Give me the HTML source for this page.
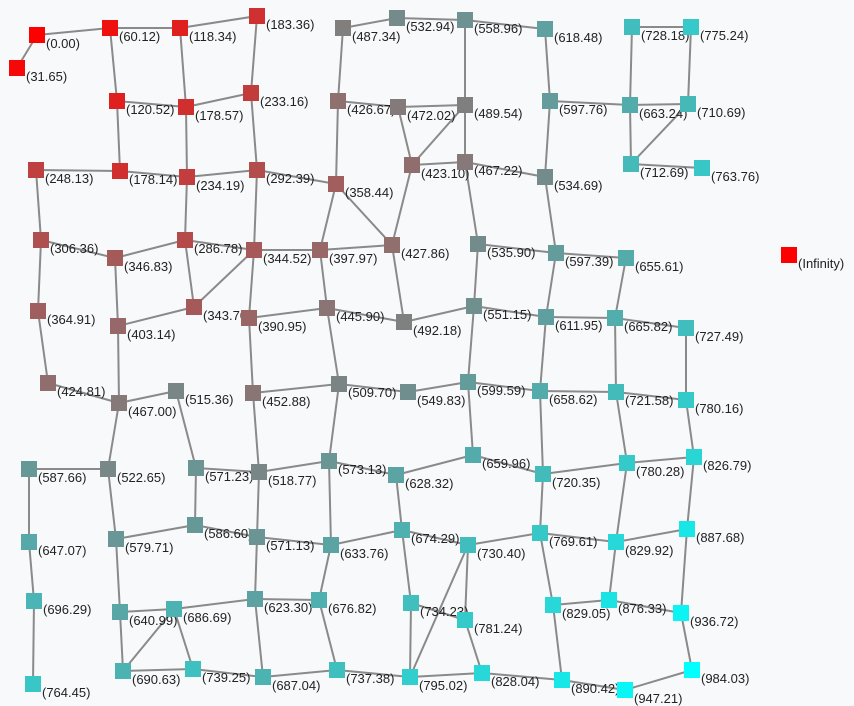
<!DOCTYPE html>
<html><head><meta charset="utf-8"><style>
html,body{margin:0;padding:0;background:#f8f9fb;}
svg{display:block;font-family:"Liberation Sans",sans-serif;}
</style></head><body>
<svg id="chart" width="854" height="706"></svg>
<script>
const nodeLabels=["0.00","31.65","60.12","118.34","183.36","120.52","178.57","233.16","248.13","178.14","234.19","292.39","306.36","346.83","286.78","344.52","364.91","403.14","343.70","390.95","424.81","467.00","515.36","452.88","587.66","522.65","571.23","518.77","647.07","579.71","586.60","571.13","696.29","640.99","686.69","623.30","764.45","690.63","739.25","687.04","487.34","532.94","558.96","618.48","426.67","472.02","489.54","597.76","358.44","423.10","467.22","534.69","397.97","427.86","535.90","597.39","445.90","492.18","551.15","611.95","509.70","549.83","599.59","658.62","573.13","628.32","659.96","720.35","633.76","674.29","730.40","769.61","676.82","734.23","781.24","829.05","737.38","795.02","828.04","890.42","728.18","775.24","663.24","710.69","712.69","763.76","655.61","665.82","727.49","721.58","780.16","780.28","826.79","829.92","887.68","876.33","936.72","947.21","984.03","Infinity"];
const nodeX=[37,17,110,180,257,117,186,251,36,120,187,257,41,115,185,254,38,118,194,249,48,119,176,253,29,108,196,259,29,116,195,257,34,120,174,255,33,123,193,263,343,397,465,545,338,398,465,550,336,412,465,545,320,392,478,556,327,404,474,546,339,408,468,540,329,396,473,543,331,402,468,540,319,411,465,553,337,410,482,562,632,691,630,688,631,702,626,615,686,616,686,627,694,616,687,609,681,625,692,789];
const nodeY=[35,68,28,28,16,101,107,93,170,171,177,170,240,258,240,250,311,326,307,318,383,403,391,393,469,469,468,472,542,539,525,537,601,612,609,599,684,671,669,677,28,18,20,29,101,107,105,101,184,165,162,177,250,245,244,253,308,322,306,317,384,392,382,391,461,475,455,474,545,530,545,533,600,603,620,605,670,677,673,680,27,27,105,104,164,168,258,318,328,392,400,463,457,542,529,600,613,690,670,255];
const edgeList=[["0.00","31.65"],["0.00","60.12"],["60.12","118.34"],["118.34","183.36"],["60.12","120.52"],["118.34","178.57"],["183.36","233.16"],["120.52","178.57"],["178.57","233.16"],["178.57","234.19"],["233.16","292.39"],["120.52","178.14"],["178.14","234.19"],["234.19","292.39"],["248.13","178.14"],["248.13","306.36"],["306.36","346.83"],["346.83","286.78"],["286.78","234.19"],["286.78","344.52"],["292.39","344.52"],["344.52","397.97"],["346.83","403.14"],["403.14","343.70"],["343.70","344.52"],["286.78","343.70"],["344.52","390.95"],["306.36","364.91"],["364.91","424.81"],["424.81","467.00"],["403.14","467.00"],["467.00","515.36"],["467.00","522.65"],["515.36","571.23"],["390.95","452.88"],["452.88","518.77"],["522.65","587.66"],["587.66","647.07"],["647.07","696.29"],["696.29","764.45"],["522.65","579.71"],["579.71","586.60"],["571.23","586.60"],["571.23","518.77"],["518.77","571.13"],["586.60","571.13"],["518.77","573.13"],["579.71","640.99"],["640.99","686.69"],["571.13","623.30"],["623.30","686.69"],["640.99","690.63"],["686.69","690.63"],["686.69","739.25"],["690.63","739.25"],["623.30","687.04"],["739.25","687.04"],["687.04","737.38"],["623.30","676.82"],["571.13","633.76"],["676.82","737.38"],["737.38","795.02"],["487.34","532.94"],["532.94","558.96"],["558.96","618.48"],["487.34","426.67"],["426.67","472.02"],["472.02","489.54"],["489.54","558.96"],["426.67","358.44"],["472.02","423.10"],["489.54","423.10"],["423.10","467.22"],["489.54","467.22"],["467.22","534.69"],["618.48","597.76"],["597.76","534.69"],["358.44","292.39"],["358.44","397.97"],["358.44","427.86"],["423.10","427.86"],["467.22","535.90"],["534.69","597.39"],["535.90","597.39"],["397.97","427.86"],["397.97","445.90"],["427.86","492.18"],["445.90","390.95"],["445.90","492.18"],["492.18","551.15"],["551.15","535.90"],["551.15","611.95"],["597.39","611.95"],["445.90","509.70"],["509.70","452.88"],["509.70","549.83"],["549.83","599.59"],["551.15","599.59"],["599.59","658.62"],["611.95","658.62"],["509.70","573.13"],["573.13","628.32"],["628.32","659.96"],["599.59","659.96"],["659.96","720.35"],["658.62","720.35"],["628.32","674.29"],["573.13","633.76"],["633.76","674.29"],["674.29","730.40"],["730.40","769.61"],["720.35","769.61"],["674.29","734.23"],["730.40","781.24"],["730.40","795.02"],["734.23","795.02"],["734.23","781.24"],["781.24","828.04"],["795.02","828.04"],["828.04","890.42"],["769.61","829.05"],["829.05","890.42"],["633.76","676.82"],["728.18","775.24"],["728.18","663.24"],["775.24","710.69"],["597.76","663.24"],["663.24","710.69"],["663.24","712.69"],["710.69","712.69"],["712.69","763.76"],["597.39","655.61"],["655.61","665.82"],["611.95","665.82"],["665.82","727.49"],["727.49","780.16"],["658.62","721.58"],["665.82","721.58"],["721.58","780.16"],["721.58","780.28"],["780.16","826.79"],["780.28","826.79"],["720.35","780.28"],["780.28","829.92"],["769.61","829.92"],["829.92","887.68"],["826.79","887.68"],["829.92","876.33"],["829.05","876.33"],["876.33","936.72"],["887.68","936.72"],["936.72","984.03"],["984.03","947.21"],["890.42","947.21"]];
const NS="http://www.w3.org/2000/svg";
const svg=document.getElementById('chart');
const maxV=984.03;
function idx(l){return nodeLabels.indexOf(l);}
function color(l){
  const v=parseFloat(l);
  if(!isFinite(v)) return 'rgb(255,0,0)';
  const t=v/maxV;
  return `rgb(${Math.round(255*(1-t))},${Math.round(255*t)},${Math.round(255*t)})`;
}
const gE=document.createElementNS(NS,'g');


svg.appendChild(gE);
edgeList.forEach(e=>{
  const a=idx(e[0]),b=idx(e[1]);
  if(a<0||b<0)return;
  const ln=document.createElementNS(NS,'line');
  ln.setAttribute('x1',nodeX[a]);ln.setAttribute('y1',nodeY[a]);
  ln.setAttribute('x2',nodeX[b]);ln.setAttribute('y2',nodeY[b]);
  ln.setAttribute('stroke','#8a8a8a');ln.setAttribute('stroke-width','2');
  
  
  gE.appendChild(ln);
});
const gN=document.createElementNS(NS,'g');


svg.appendChild(gN);
nodeLabels.forEach((l,i)=>{
  const r=document.createElementNS(NS,'rect');
  r.setAttribute('x',nodeX[i]-8);r.setAttribute('y',nodeY[i]-8);
  r.setAttribute('width',16);r.setAttribute('height',16);
  r.setAttribute('fill',color(l));
  
  
  gN.appendChild(r);
  const t=document.createElementNS(NS,'text');
  t.setAttribute('x',nodeX[i]+9);t.setAttribute('y',nodeY[i]+13);
  t.setAttribute('font-size','13');t.setAttribute('fill','#222');
  t.textContent='('+l+')';
  
  
  gN.appendChild(t);
});
</script>
</body></html>
